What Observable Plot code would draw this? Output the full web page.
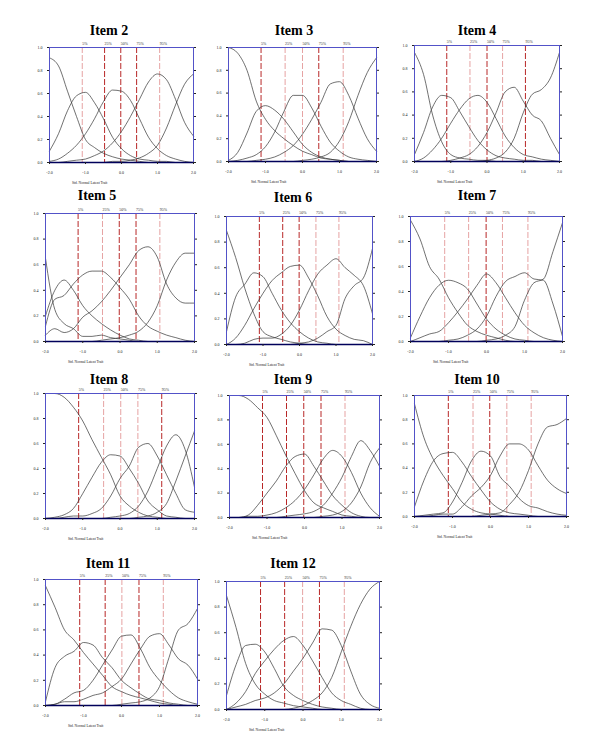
<!DOCTYPE html>
<html>
<head>
<meta charset="utf-8">
<script src="https://cdn.jsdelivr.net/npm/d3@7"></script>
<script src="https://cdn.jsdelivr.net/npm/@observablehq/plot@0.6"></script>
<style>
  html, body { margin: 0; padding: 0; background: #fff; }
  #wrap { position: relative; width: 600px; height: 742px; overflow: hidden; }
  .title { position: absolute; font-family: "Liberation Serif", serif; font-weight: bold; font-size: 14px; transform: translate(-50%, -50%); white-space: nowrap; color: #000; }
  .xlab { position: absolute; font-family: "Liberation Serif", serif; font-size: 3.6px; transform: translateY(-50%); white-space: nowrap; color: #222; }
  .panel { position: absolute; }
</style>
</head>
<body>
<div id="wrap"></div>
<script>
// ---------- data ----------
const xGrid = [-2, -1.75, -1.5, -1.25, -1, -0.75, -0.5, -0.25, 0, 0.25, 0.5, 0.75, 1, 1.25, 1.5, 1.75, 2];
const xTicks = [-2, -1, 0, 1, 2];
const yTicks = [0, 0.2, 0.4, 0.6, 0.8, 1.0];
const pctLabels = ["5%", "25%", "50%", "75%", "95%"];
const itemNames = ["Item 2", "Item 3", "Item 4", "Item 5", "Item 6", "Item 7", "Item 8", "Item 9", "Item 10", "Item 11", "Item 12"];
const axisTitle = "Std. Normal Latent Trait";

const item2 = [
  [0.91,0.84,0.62,0.40,0.20,0.13,0.08,0.05,0.03,0.02,0.01,0,0,0,0,0,0],
  [0.10,0.25,0.45,0.58,0.61,0.52,0.38,0.22,0.12,0.06,0.03,0.02,0.01,0.01,0,0,0],
  [0.01,0.03,0.08,0.15,0.25,0.38,0.53,0.63,0.62,0.54,0.38,0.22,0.12,0.06,0.03,0.01,0],
  [0,0,0.01,0.02,0.03,0.06,0.10,0.17,0.27,0.40,0.55,0.70,0.77,0.72,0.55,0.35,0.23],
  [0,0,0,0,0,0,0,0.01,0.01,0.02,0.04,0.08,0.15,0.30,0.50,0.68,0.77]
];
const pct2 = [-1.09, -0.47, -0.02, 0.42, 1.06];

const item3 = [
  [1.0,0.95,0.80,0.53,0.37,0.27,0.20,0.14,0.09,0.06,0.03,0.02,0.01,0,0,0,0],
  [0.01,0.08,0.25,0.44,0.49,0.45,0.37,0.26,0.15,0.08,0.04,0.02,0.01,0,0,0,0],
  [0,0.01,0.03,0.06,0.13,0.26,0.44,0.58,0.58,0.47,0.31,0.17,0.09,0.04,0.02,0.01,0],
  [0,0,0,0.01,0.02,0.04,0.08,0.14,0.24,0.37,0.52,0.68,0.70,0.58,0.38,0.20,0.09],
  [0,0,0,0,0,0,0,0,0.01,0.02,0.04,0.08,0.18,0.35,0.58,0.78,0.91]
];
const pct3 = [-1.12, -0.47, 0.0, 0.44, 1.10];

const item4 = [
  [0.94,0.75,0.40,0.17,0.06,0.03,0.02,0.01,0.01,0,0,0,0,0,0,0,0],
  [0.06,0.25,0.47,0.57,0.55,0.43,0.30,0.18,0.10,0.05,0.03,0.02,0.01,0.01,0,0,0],
  [0,0.03,0.10,0.20,0.33,0.45,0.54,0.57,0.51,0.37,0.22,0.12,0.06,0.04,0.02,0.01,0],
  [0,0,0,0,0.01,0.03,0.06,0.13,0.25,0.42,0.60,0.64,0.52,0.40,0.35,0.20,0.06],
  [0,0,0,0,0,0,0,0,0.01,0.03,0.08,0.20,0.42,0.58,0.62,0.72,0.94]
];
const pct4 = [-1.11, -0.47, 0.0, 0.43, 1.06];

const item5 = [
  [0.65,0.25,0.14,0.10,0.04,0.04,0.05,0.03,0.02,0.01,0,0,0,0,0,0,0],
  [0.20,0.40,0.48,0.40,0.28,0.20,0.14,0.09,0.05,0.02,0.01,0,0,0,0,0,0],
  [0.12,0.33,0.36,0.45,0.52,0.55,0.55,0.50,0.42,0.33,0.20,0.12,0.08,0.05,0.03,0.01,0],
  [0.05,0.10,0.07,0.10,0.19,0.24,0.31,0.40,0.50,0.60,0.71,0.74,0.66,0.45,0.34,0.30,0.30],
  [0,0,0,0,0,0,0.01,0.02,0.03,0.05,0.08,0.15,0.28,0.48,0.62,0.69,0.69]
];
const pct5 = [-1.125, -0.47, -0.02, 0.43, 1.07];

const item6 = [
  [0.89,0.68,0.44,0.24,0.10,0.06,0.04,0.02,0.01,0,0,0,0,0,0,0,0],
  [0.10,0.37,0.47,0.56,0.53,0.40,0.27,0.17,0.10,0.05,0.02,0.01,0,0,0,0,0],
  [0,0.05,0.15,0.28,0.40,0.50,0.56,0.61,0.62,0.52,0.38,0.22,0.12,0.07,0.04,0.03,0],
  [0,0,0.01,0.04,0.05,0.05,0.08,0.15,0.27,0.42,0.55,0.62,0.67,0.60,0.54,0.46,0.24],
  [0,0,0,0,0,0,0,0,0.01,0.02,0.05,0.10,0.15,0.36,0.46,0.52,0.75]
];
const pct6 = [-1.10, -0.46, -0.01, 0.45, 1.08];

const item7 = [
  [0.97,0.82,0.60,0.50,0.35,0.23,0.13,0.08,0.05,0.03,0.01,0,0,0,0,0,0],
  [0.03,0.20,0.35,0.45,0.49,0.47,0.42,0.30,0.18,0.10,0.05,0.02,0.01,0,0,0,0],
  [0,0.03,0.06,0.08,0.15,0.24,0.34,0.45,0.54,0.47,0.35,0.23,0.13,0.07,0.03,0.01,0],
  [0,0,0,0,0.01,0.02,0.05,0.10,0.20,0.36,0.48,0.52,0.55,0.50,0.49,0.30,0.04],
  [0,0,0,0,0,0,0,0,0.01,0.02,0.05,0.12,0.33,0.47,0.50,0.72,0.95]
];
const pct7 = [-1.10, -0.47, -0.01, 0.42, 1.09];

const item8 = [
  [1.0,1.0,0.97,0.89,0.78,0.63,0.49,0.35,0.18,0.10,0.05,0.02,0.01,0,0,0,0],
  [0,0.01,0.03,0.08,0.20,0.33,0.45,0.51,0.50,0.40,0.28,0.14,0.07,0.02,0.01,0,0],
  [0,0,0.01,0.02,0.02,0.04,0.08,0.18,0.32,0.42,0.57,0.60,0.50,0.35,0.20,0.07,0.05],
  [0,0,0,0,0,0,0,0.01,0.02,0.04,0.10,0.22,0.40,0.58,0.67,0.55,0.25],
  [0,0,0,0,0,0,0,0,0,0,0.01,0.02,0.05,0.12,0.30,0.50,0.70]
];
const pct8 = [-1.11, -0.44, 0.02, 0.48, 1.12];

const item9 = [
  [1.0,1.0,0.97,0.90,0.82,0.67,0.51,0.36,0.22,0.12,0.08,0.05,0.02,0.01,0,0,0],
  [0,0,0.02,0.10,0.20,0.30,0.42,0.50,0.52,0.42,0.30,0.18,0.10,0.04,0.01,0,0],
  [0,0,0.01,0.01,0.02,0.04,0.08,0.14,0.23,0.35,0.48,0.55,0.50,0.37,0.20,0.08,0.01],
  [0,0,0,0,0,0,0.01,0.02,0.03,0.05,0.10,0.20,0.33,0.50,0.63,0.55,0.42],
  [0,0,0,0,0,0,0,0,0,0,0.01,0.02,0.05,0.12,0.25,0.45,0.57]
];
const pct9 = [-1.12, -0.48, -0.02, 0.44, 1.08];

const item10 = [
  [0.93,0.65,0.47,0.34,0.23,0.12,0.06,0.03,0.02,0.01,0,0,0,0,0,0,0],
  [0.08,0.30,0.46,0.52,0.53,0.45,0.33,0.22,0.12,0.06,0.03,0.02,0.01,0,0,0,0],
  [0,0.01,0.02,0.03,0.12,0.28,0.46,0.54,0.50,0.33,0.25,0.15,0.09,0.07,0.04,0.02,0.01],
  [0,0,0.01,0.02,0.02,0.08,0.17,0.24,0.34,0.50,0.60,0.60,0.55,0.42,0.30,0.23,0.19],
  [0,0,0,0,0,0,0,0.01,0.02,0.03,0.10,0.20,0.38,0.60,0.74,0.76,0.81]
];
const pct10 = [-1.11, -0.46, -0.02, 0.43, 1.07];

const item11 = [
  [0.95,0.78,0.60,0.52,0.42,0.33,0.24,0.15,0.11,0.08,0.06,0.04,0.02,0.01,0,0,0],
  [0.03,0.30,0.39,0.43,0.50,0.48,0.38,0.30,0.20,0.14,0.09,0.05,0.04,0.02,0.01,0,0],
  [0,0.01,0.05,0.10,0.12,0.20,0.32,0.44,0.55,0.56,0.45,0.30,0.20,0.12,0.06,0.03,0.01],
  [0,0.01,0.03,0.03,0.05,0.08,0.10,0.15,0.21,0.33,0.45,0.55,0.57,0.48,0.37,0.32,0.21],
  [0,0,0,0,0,0,0,0,0.01,0.02,0.03,0.06,0.15,0.38,0.60,0.65,0.77]
];
const pct11 = [-1.10, -0.43, 0.01, 0.46, 1.10];

const item12 = [
  [0.89,0.64,0.36,0.20,0.12,0.07,0.05,0.03,0.02,0.01,0,0,0,0,0,0,0],
  [0.11,0.35,0.50,0.51,0.45,0.32,0.18,0.11,0.07,0.04,0.02,0.01,0,0,0,0,0],
  [0,0.05,0.14,0.28,0.38,0.47,0.54,0.57,0.50,0.38,0.25,0.13,0.07,0.04,0.01,0,0],
  [0,0.02,0.04,0.07,0.09,0.13,0.20,0.30,0.40,0.52,0.63,0.62,0.50,0.30,0.12,0.04,0.01],
  [0,0,0,0,0,0,0,0.01,0.03,0.07,0.13,0.25,0.45,0.65,0.82,0.94,1.0]
];
const pct12 = [-1.11, -0.48, -0.01, 0.43, 1.08];

const curveSets = [item2, item3, item4, item5, item6, item7, item8, item9, item10, item11, item12];
const pctSets = [pct2, pct3, pct4, pct5, pct6, pct7, pct8, pct9, pct10, pct11, pct12];

// ---------- styling & layout (not data) ----------
// 1 = dark red dashed line, 0 = pale red dashed line (as rendered in the source)
const lineShades = [
  [0,1,1,1,0], [1,0,0,1,0], [1,0,1,0,1], [1,0,1,1,0], [1,1,1,0,0], [0,0,1,0,0],
  [1,0,0,0,1], [1,1,1,1,0], [1,0,1,0,0], [1,1,0,1,0], [1,1,0,1,0]
];
// page pixels: plot frame left/top/width/height, title centre
const layout = [
  {L: 49,  T: 47,  W: 144, H: 115, tx: 109, ty: 31},
  {L: 228, T: 47,  W: 148, H: 114, tx: 294, ty: 31},
  {L: 414, T: 45,  W: 145, H: 116, tx: 477, ty: 31},
  {L: 45,  T: 213, W: 149, H: 128, tx: 97,  ty: 196},
  {L: 226, T: 216, W: 146, H: 128, tx: 293, ty: 198},
  {L: 410, T: 216, W: 152, H: 125, tx: 477, ty: 196},
  {L: 45,  T: 393, W: 149, H: 125, tx: 109, ty: 380},
  {L: 229, T: 395, W: 150, H: 122, tx: 293, ty: 380},
  {L: 414, T: 395, W: 152, H: 121, tx: 477, ty: 380},
  {L: 45,  T: 579, W: 152, H: 126, tx: 108, ty: 564},
  {L: 226, T: 581, W: 153, H: 128, tx: 293, ty: 564}
];

const mL = 20, mR = 8, mT = 10, mB = 16;
const wrap = document.getElementById("wrap");

curveSets.forEach((curves, i) => {
  const lay = layout[i];
  const rows = [];
  curves.forEach((vals, k) => vals.forEach((v, j) => rows.push({x: xGrid[j], y: v, k})));
  const pct = pctSets[i];
  const shades = lineShades[i];

  const chart = Plot.plot({
    width: lay.W + mL + mR,
    height: lay.H + mT + mB,
    marginLeft: mL, marginRight: mR, marginTop: mT, marginBottom: mB,
    x: {domain: [-2, 2]},
    y: {domain: [0, 1]},
    style: {fontFamily: "Liberation Serif, serif", fontSize: "4px", background: "transparent", overflow: "visible", color: "#222"},
    marks: [
      Plot.ruleX(pct, {stroke: (d, j) => shades[j] ? "#b82828" : "#e6a3a3", strokeWidth: 1, strokeDasharray: "6,2"}),
      Plot.text(pctLabels, {x: pct, text: d => d, frameAnchor: "top", dy: -5, textAnchor: "start", fontSize: 4, fill: "#333"}),
      Plot.line(rows, {x: "x", y: "y", z: "k", stroke: "#333", strokeWidth: 0.7, curve: "monotone-x"}),
      Plot.frame({stroke: "#5252c8", strokeWidth: 1}),
      Plot.ruleY([0], {stroke: "#00005a", strokeWidth: 1.6}),
      Plot.axisX({ticks: xTicks, tickFormat: d => d.toFixed(1), tickSize: 2, tickPadding: 7, label: null, fontSize: 4}),
      Plot.axisY({ticks: yTicks, tickFormat: d => d.toFixed(1), tickSize: 2, tickPadding: 5, label: null, fontSize: 4}),
      Plot.axisY({anchor: "right", ticks: yTicks, tickFormat: () => "", tickSize: 2, label: null})
    ]
  });
  const holder = document.createElement("div");
  holder.className = "panel";
  holder.style.left = (lay.L - mL) + "px";
  holder.style.top = (lay.T - mT) + "px";
  holder.appendChild(chart);
  wrap.appendChild(holder);

  const t = document.createElement("div");
  t.className = "title";
  t.textContent = itemNames[i];
  t.style.left = lay.tx + "px";
  t.style.top = lay.ty + "px";
  wrap.appendChild(t);

  const xl = document.createElement("div");
  xl.className = "xlab";
  xl.textContent = axisTitle;
  xl.style.left = (lay.L + 23) + "px";
  xl.style.top = (lay.T + lay.H + 21) + "px";
  wrap.appendChild(xl);
});
</script>
</body>
</html>
